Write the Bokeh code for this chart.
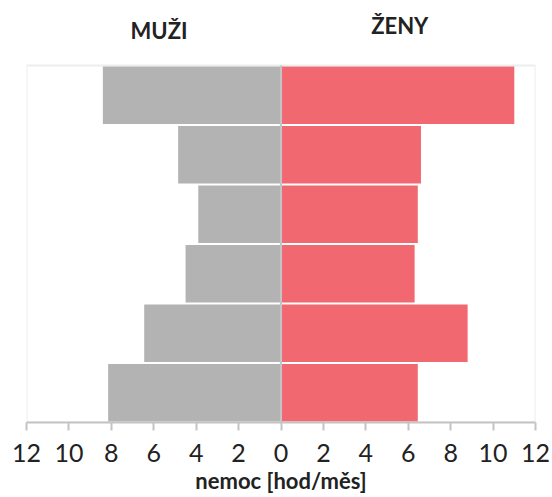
from bokeh.plotting import figure
from bokeh.models import FixedTicker, Range1d, Label, BoxAnnotation
from bokeh.embed import file_html
from bokeh.resources import INLINE

categories = ["1", "2", "3", "4", "5", "6"]  # top to bottom
men = [8.4, 4.85, 3.9, 4.5, 6.45, 8.15]
women = [11.0, 6.6, 6.45, 6.3, 8.8, 6.45]
x_ticks = [-12, -10, -8, -6, -4, -2, 0, 2, 4, 6, 8, 10, 12]
x_labels = {t: str(abs(t)) for t in x_ticks}

n = len(categories)
ypos = [n - i for i in range(n)]

# frame: 357 px for 6 categories; 65 px header area above
unit = 357 / n
top_extra = 65 / unit

p = figure(width=552, height=497, output_backend="svg", toolbar_location=None,
           x_range=Range1d(-12, 12), y_range=Range1d(0.5, n + 0.5 + top_extra),
           min_border_left=26, min_border_right=17, min_border_top=0, min_border_bottom=75)

p.hbar(y=ypos, left=[-v for v in men], right=0, height=0.97, fill_color="#b3b3b3", line_color=None)
p.hbar(y=ypos, left=0, right=women, height=0.97, fill_color="#f16870", line_color=None)

p.add_layout(BoxAnnotation(left=-0.05, right=0.05, bottom=0.5, top=n + 0.5,
                           fill_color="#c4c4c4", fill_alpha=1, line_color=None))
p.add_layout(BoxAnnotation(left=-12, right=12, bottom=0.5, top=n + 0.5,
                           fill_color=None, fill_alpha=0, line_color="#c4c4c4", line_width=2))

p.xgrid.visible = False
p.ygrid.visible = False
p.yaxis.visible = False
p.outline_line_color = None

ax = p.xaxis[0]
ax.ticker = FixedTicker(ticks=x_ticks)
ax.major_label_overrides = x_labels
ax.axis_line_color = "#c4c4c4"
ax.axis_line_width = 2
ax.major_tick_line_color = "#c4c4c4"
ax.major_tick_line_width = 2
ax.major_tick_in = 0
ax.major_tick_out = 8
ax.minor_tick_line_color = None
ax.major_label_text_font = "Lato"
ax.major_label_text_font_size = "25px"
ax.major_label_text_color = "#222222"
ax.major_label_standoff = 13
ax.axis_label = "nemoc [hod/měs]"
ax.axis_label_text_font = "Lato"
ax.axis_label_text_font_style = "bold"
ax.axis_label_text_font_size = "22px"
ax.axis_label_text_color = "#222222"
ax.axis_label_standoff = 2

for txt, xv, yoff in [("MUŽI", -5.75, 35), ("ŽENY", 5.6, 40)]:
    p.add_layout(Label(x=xv, y=n + 0.5, y_offset=yoff, text=txt, text_align="center",
                       text_baseline="middle", text_font="Lato", text_font_style="bold",
                       text_font_size="22px", text_color="#222222"))

open("out.html", "w").write(file_html(p, INLINE))
